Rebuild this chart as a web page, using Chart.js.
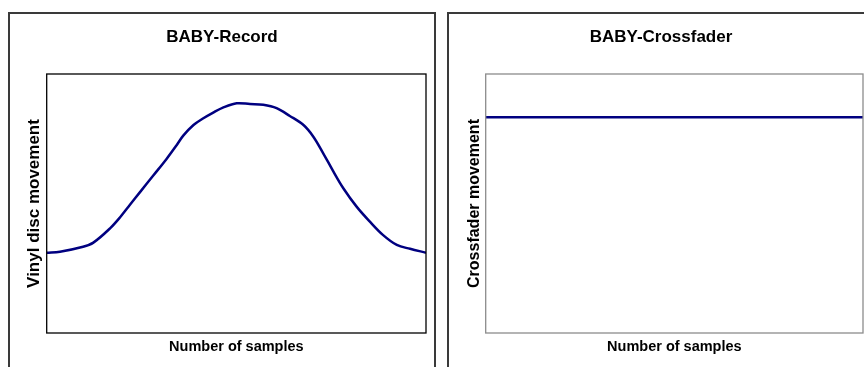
<!DOCTYPE html>
<html>
<head>
<meta charset="utf-8">
<script src="https://cdn.jsdelivr.net/npm/chart.js@4/dist/chart.umd.min.js"></script>
<style>
  html, body { margin:0; padding:0; width:864px; height:367px; overflow:hidden; background:#fff; }
  .panel { position:absolute; box-sizing:border-box; border:2px solid #3a3a3a; background:#fff; }
  .cv { position:absolute; }
</style>
</head>
<body>
<div class="panel" style="left:8px; top:12px; width:428px; height:400px;"></div>
<div class="panel" style="left:447px; top:12px; width:440px; height:400px;"></div>
<div class="cv" style="left:8px; top:12px; width:428px; height:355px;"><canvas id="c1"></canvas></div>
<div class="cv" style="left:447px; top:12px; width:428px; height:355px;"><canvas id="c2"></canvas></div>
<script>
// ---- data ----
const vinylSamples = [0,3.5,9.6,12.3,16.7,19.3,22.0,24.6,28.1,31.6,34.3,36.0,38.7,41.3,43.9,46.6,50.1,53.6,57.1,60.6,64.1,67.7,70.3,72.9,75.6,78.2,81.7,85.2,88.7,92.3,95.8,100];
const vinylMovement = [31.0,31.4,33.3,34.9,40.4,44.6,49.6,54.4,60.8,67.2,72.6,76.2,80.3,82.9,85.1,87.1,88.7,88.4,88.1,86.8,83.8,80.3,75.8,69.4,62.3,55.9,48.8,43.0,37.8,34.0,32.5,31.0];
const crossSamples = [0,10,20,30,40,50,60,70,80,90,100];
const crossfaderMovement = [83.3,83.3,83.3,83.3,83.3,83.3,83.3,83.3,83.3,83.3,83.3];
const titles = ['BABY-Record', 'BABY-Crossfader'];
const yTitles = ['Vinyl disc movement', 'Crossfader movement'];
const xTitle = 'Number of samples';

const FONT = "'Liberation Sans', Arial, sans-serif";

const frame = {
  id: 'frame',
  afterDraw(chart, args, opts) {
    const a = chart.chartArea, ctx = chart.ctx;
    ctx.save();
    ctx.strokeStyle = opts.color;
    ctx.lineWidth = 1.3;
    ctx.strokeRect(a.left, a.top, a.right - a.left, a.bottom - a.top);
    ctx.restore();
  }
};

function make(id, xs, values, title, yTitle, frameColor, pad, yWidth, ySize, yTitlePad) {
  return new Chart(document.getElementById(id), {
    type: 'line',
    data: {
      datasets: [{
        data: xs.map((s, i) => ({x: s, y: values[i]})),
        borderColor: '#000080',
        borderWidth: 2.5,
        pointRadius: 0,
        tension: 0.35,
        fill: false
      }]
    },
    options: {
      responsive: true,
      maintainAspectRatio: false,
      animation: false,
      events: [],
      layout: { padding: { left: pad, top: 0, right: pad, bottom: 0 } },
      plugins: {
        legend: { display: false },
        tooltip: { enabled: false },
        title: {
          display: true, text: title, color: '#000',
          font: { family: FONT, size: 17, weight: 'bold', lineHeight: 1.2 },
          padding: { top: 14.8, bottom: 26.8 }
        },
        frame: { color: frameColor }
      },
      scales: {
        x: {
          type: 'linear', min: 0, max: 100,
          grid: { display: false }, border: { display: false },
          ticks: { display: false },
          title: { display: true, text: xTitle, color: '#000',
                   font: { family: FONT, size: 14.5, weight: 'bold', lineHeight: 1.2 },
                   padding: { top: 0, bottom: 11.3 } },
          afterFit(s) { s.height = 34; }
        },
        y: {
          min: 0, max: 100,
          grid: { display: false }, border: { display: false },
          ticks: { display: false },
          title: { display: true, text: yTitle, color: '#000',
                   font: { family: FONT, size: ySize, weight: 'bold', lineHeight: 1.2 },
                   padding: { top: yTitlePad, bottom: 0 } },
          afterFit(s) { s.width = yWidth; }
        }
      }
    },
    plugins: [frame]
  });
}

make('c1', vinylSamples, vinylMovement, titles[0], yTitles[0], '#000', 10, 28.7, 17, 6.5);
make('c2', crossSamples, crossfaderMovement, titles[1], yTitles[1], '#8c8c8c', 12, 26.7, 16, 5.5);
</script>
</body>
</html>
